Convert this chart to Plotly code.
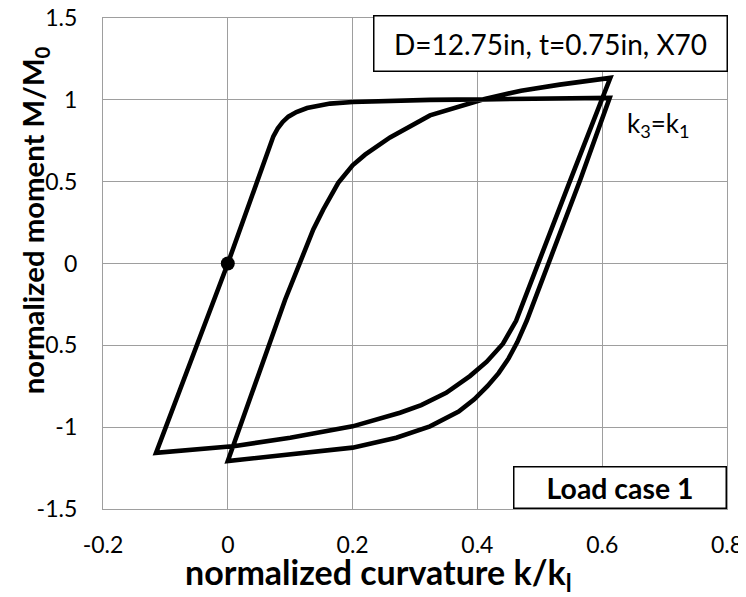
import plotly.graph_objects as go

# ---- data ----
# 1) initial loading: origin -> k1
k_load1 = [0.0, 0.047, 0.073, 0.080, 0.088, 0.097, 0.110, 0.127, 0.145, 0.164, 0.2, 0.25, 0.324, 0.41, 0.5, 0.612]
m_load1 = [0.0, 0.513, 0.777, 0.825, 0.865, 0.897, 0.925, 0.950, 0.966, 0.977, 0.987, 0.993, 1.0, 1.003, 1.008, 1.012]
# 2) reverse bending: k1 -> k2 = 0
k_unload1 = [0.565, 0.514, 0.495, 0.479, 0.464, 0.450, 0.434, 0.416, 0.395, 0.37, 0.324, 0.27, 0.2, 0.1, 0.0]
m_unload1 = [0.513, 0.0, -0.2, -0.35, -0.48, -0.58, -0.67, -0.75, -0.83, -0.905, -0.995, -1.065, -1.125, -1.168, -1.207]
# 3) reloading: k2 -> k3 = k1
k_load2 = [0.092, 0.116, 0.137, 0.153, 0.177, 0.2, 0.22, 0.26, 0.324, 0.41, 0.47, 0.532, 0.613]
m_load2 = [-0.22, 0.0, 0.208, 0.33, 0.493, 0.6, 0.665, 0.77, 0.905, 1.003, 1.056, 1.093, 1.134]
# 4) reverse bending: k3 -> k4
k_unload2 = [0.55, 0.497, 0.478, 0.462, 0.441, 0.415, 0.388, 0.35, 0.31, 0.276, 0.2, 0.1, 0.012, -0.115]
m_unload2 = [0.52, 0.0, -0.2, -0.35, -0.49, -0.6, -0.688, -0.79, -0.865, -0.912, -0.995, -1.065, -1.115, -1.157]
# 5) unloading to zero moment
k_final = [0.0]
m_final = [0.0]

start_k = [0.0]
start_m = [0.0]

x_ticks = [-0.2, 0.0, 0.2, 0.4, 0.6, 0.8]
x_labels = ["-0.2", "0", "0.2", "0.4", "0.6", "0.8"]
y_ticks = [-1.5, -1.0, -0.5, 0.0, 0.5, 1.0, 1.5]
y_labels = ["-1.5", "-1", "-0.5", "0", "0.5", "1", "1.5"]

k_all = k_load1 + k_unload1 + k_load2 + k_unload2 + k_final
m_all = m_load1 + m_unload1 + m_load2 + m_unload2 + m_final

FONT = "Lato"
GRID = "#9e9e9e"

# page body has an 8px default margin: size the figure so it fits the window
OFF = 8
W, H = 746 - OFF, 597 - OFF
PL, PR, PT, PB = 102.5, 727.5, 18.3, 509.3  # plot-area edges in window pixels


def px(xw):
    return (xw - PL) / (PR - PL)


def py(yw):
    return (PB - yw) / (PB - PT)


fig = go.Figure()
fig.add_trace(go.Scatter(x=k_all, y=m_all, mode="lines",
                         line=dict(color="black", width=4.6), showlegend=False,
                         hoverinfo="skip"))
fig.add_trace(go.Scatter(x=start_k, y=start_m, mode="markers",
                         marker=dict(color="black", size=14), showlegend=False,
                         hoverinfo="skip"))

fig.update_layout(
    width=W, height=H,
    margin=dict(l=PL - OFF, r=W - (PR - OFF), t=PT - OFF, b=H - (PB - OFF), autoexpand=False),
    paper_bgcolor="white", plot_bgcolor="white",
    font=dict(family=FONT, color="black", size=22),
    showlegend=False,
)
fig.update_xaxes(range=[-0.2, 0.8], tickvals=x_ticks, ticktext=x_labels,
                 showgrid=True, gridcolor=GRID, gridwidth=1.3,
                 showline=True, linecolor=GRID, linewidth=1.3, mirror=True,
                 zeroline=False, ticks="", ticklabelstandoff=15,
                 ticklabeloverflow="allow",
                 tickfont=dict(family=FONT, size=23, color="black"))
fig.update_yaxes(range=[-1.5, 1.5], tickvals=y_ticks, ticktext=y_labels,
                 showgrid=True, gridcolor=GRID, gridwidth=1.3,
                 showline=True, linecolor=GRID, linewidth=1.3, mirror=True,
                 zeroline=False, ticks="", ticklabelstandoff=20,
                 ticklabeloverflow="allow",
                 tickfont=dict(family=FONT, size=23, color="black"))

# axis titles
fig.add_annotation(xref="paper", yref="paper", x=px(378), y=py(574),
                   text="<b>normalized curvature k/k<sub>l</sub></b>", showarrow=False,
                   xanchor="center", yanchor="middle",
                   font=dict(family=FONT, size=34, color="black"))
fig.add_annotation(xref="paper", yref="paper", x=px(34), y=py(221),
                   text="<b>normalized moment M/M<sub>0</sub></b>", showarrow=False,
                   textangle=-90, xanchor="center", yanchor="middle",
                   font=dict(family=FONT, size=29.3, color="black"))

# boxed labels
fig.add_annotation(xref="paper", yref="paper", x=px(551), y=py(43.5),
                   text="D=12.75in, t=0.75in, X70", showarrow=False,
                   xanchor="center", yanchor="middle",
                   width=352, height=54, borderpad=0,
                   bgcolor="white", bordercolor="black", borderwidth=1.5,
                   font=dict(family=FONT, size=28, color="black"))
fig.add_annotation(xref="paper", yref="paper", x=px(620.5), y=py(487.5),
                   text="<b>Load case 1</b>", showarrow=False,
                   xanchor="center", yanchor="middle",
                   width=211, height=40, borderpad=0,
                   bgcolor="white", bordercolor="black", borderwidth=1.5,
                   font=dict(family=FONT, size=28.4, color="black"))
fig.add_annotation(xref="paper", yref="paper", x=px(659), y=py(125),
                   text="k<sub>3</sub>=k<sub>1</sub>", showarrow=False,
                   xanchor="center", yanchor="middle",
                   font=dict(family=FONT, size=26, color="black"))

fig.write_html("out.html")
